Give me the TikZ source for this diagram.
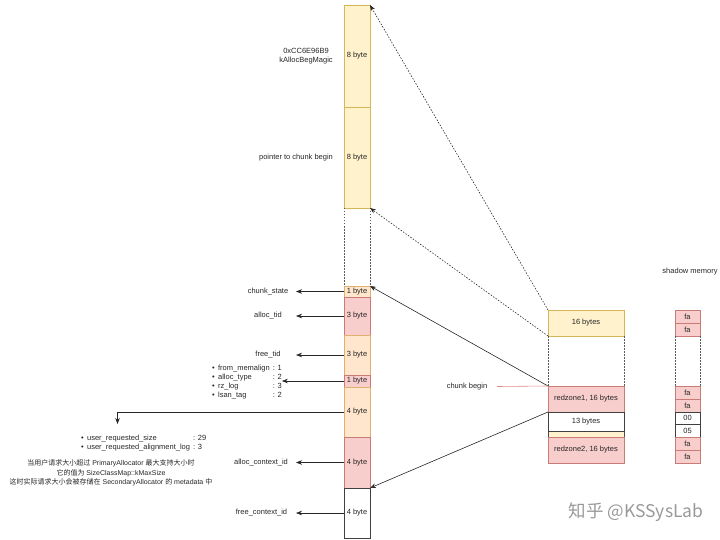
\documentclass[tikz,border=0pt]{standalone}
\usepackage{fontspec}
\setmainfont{Liberation Sans}
\newfontfamily\cjk{Noto Sans CJK SC}
\usetikzlibrary{arrows.meta}
\definecolor{yfill}{HTML}{FFF2CC}
\definecolor{ydraw}{HTML}{D6B656}
\definecolor{ofill}{HTML}{FFE6CC}
\definecolor{odraw}{HTML}{E0B070}
\definecolor{pfill}{HTML}{F8CECC}
\definecolor{pdraw}{HTML}{C97B78}
\definecolor{cbline}{HTML}{E08A88}
\begin{document}
\begin{tikzpicture}[x=1pt,y=-1pt,
  every node/.style={font=\fontsize{7.5}{9}\selectfont, text=black!85},
  cell/.style={draw, anchor=north west, inner sep=0pt, outer sep=0pt, line width=0.6pt, align=center},
  ycell/.style={cell, fill=yfill, draw=ydraw},
  ocell/.style={cell, fill=ofill, draw=odraw},
  pcell/.style={cell, fill=pfill, draw=pdraw},
  wcell/.style={cell, fill=white, draw=black!75},
  lab/.style={inner sep=0pt, outer sep=0pt},
  ptr/.style={-{Stealth[length=6pt,width=4.5pt]}, line width=0.6pt, draw=black!85},
  dotptr/.style={ptr, dash pattern=on 1.5pt off 1.5pt},
  gapline/.style={draw=black!65, line width=0.6pt, dash pattern=on 1.5pt off 1.5pt},
]
\useasboundingbox (0,0) rectangle (720,540);

% ---------- left column ----------
\node[ycell, minimum width=26pt, minimum height=102pt] (m8) at (344,5) {8 byte};
\node[ycell, minimum width=26pt, minimum height=101pt] (p8) at (344,107) {8 byte};
\node[ocell, minimum width=26pt, minimum height=11pt] (cs) at (344,286) {1 byte};
\node[pcell, minimum width=26pt, minimum height=38pt] (at) at (344,297) {3 byte};
\node[ocell, minimum width=26pt, minimum height=40pt] (ft) at (344,335) {3 byte};
\node[pcell, minimum width=26pt, minimum height=12pt] (ob) at (344,375) {1 byte};
\node[ocell, minimum width=26pt, minimum height=50pt] (rs) at (344,387) {4 byte};
\node[pcell, minimum width=26pt, minimum height=51pt] (ac) at (344,437) {4 byte};
\node[wcell, minimum width=26pt, minimum height=50pt] (fc) at (344,488) {4 byte};
\draw[gapline] (p8.south west) -- (cs.north west);
\draw[gapline] (p8.south east) -- (cs.north east);

% ---------- middle column ----------
\node[ycell, minimum width=76pt, minimum height=26pt] (s16) at (548,310) {16 bytes};
\node[pcell, minimum width=76pt, minimum height=26pt] (rz1) at (548,386) {redzone1, 16 bytes};
\node[ycell, draw=black!70, minimum width=76pt, minimum height=6pt] (pad) at (548,431) {};
\node[wcell, minimum width=76pt, minimum height=19pt] (u13) at (548,412) {13 bytes};
\node[pcell, minimum width=76pt, minimum height=26pt] (rz2) at (548,437) {redzone2, 16 bytes};
\draw[gapline] (s16.south west) -- (rz1.north west);
\draw[gapline] (s16.south east) -- (rz1.north east);

% ---------- shadow memory ----------
\node (sm) at (690,272) {shadow memory};
\node[pcell, minimum width=25pt, minimum height=13pt] (f1) at (675,310) {fa};
\node[pcell, minimum width=25pt, minimum height=13pt] (f2) at (675,323) {fa};
\node[pcell, minimum width=25pt, minimum height=13pt] (f3) at (675,386) {fa};
\node[pcell, minimum width=25pt, minimum height=13pt] (f4) at (675,399) {fa};
\node[wcell, minimum width=25pt, minimum height=12pt] (z0) at (675,412) {00};
\node[wcell, minimum width=25pt, minimum height=13pt] (z5) at (675,424) {05};
\node[pcell, minimum width=25pt, minimum height=13pt] (f5) at (675,437) {fa};
\node[pcell, minimum width=25pt, minimum height=13pt] (f6) at (675,450) {fa};
\draw[gapline] (f2.south west) -- (f3.north west);
\draw[gapline] (f2.south east) -- (f3.north east);

% ---------- labels ----------
\node[align=center] (magic) at (306,56.5) {0xCC6E96B9\\kAllocBegMagic};
\node (ptrlab) at (296,157.5) {pointer to chunk begin};
\node[lab, minimum width=56pt] (l1) at (268,291.5) {chunk\_state};
\node[lab, minimum width=56pt] (l2) at (268,316) {alloc\_tid};
\node[lab, minimum width=56pt] (l3) at (268,355) {free\_tid};
\node[lab, anchor=west] (l4) at (212,382.5) {%
  \begin{tabular}{@{}l@{\hspace{3.5pt}}l@{\hspace{3pt}}l@{}}
  \textbullet & from\_memalign & : 1\\
  \textbullet & alloc\_type & : 2\\
  \textbullet & rz\_log & : 3\\
  \textbullet & lsan\_tag & : 2
  \end{tabular}};
\node[lab, minimum width=70pt] (l6) at (261,462.5) {alloc\_context\_id};
\node[lab, minimum width=69pt] (l7) at (261.5,513) {free\_context\_id};
\node[lab, anchor=west] (l5) at (81,443.5) {%
  \begin{tabular}{@{}l@{\hspace{3.5pt}}l@{\hspace{3pt}}l@{}}
  \textbullet & user\_requested\_size & : 29\\
  \textbullet & user\_requested\_alignment\_log & : 3
  \end{tabular}};
\node[align=center, font=\fontsize{7}{9.5}\selectfont] (cn) at (111,473) {%
  {\cjk 当用户请求大小超过} PrimaryAllocator {\cjk 最大支持大小时}\\
  {\cjk 它的值为} SizeClassMap::kMaxSize\\
  {\cjk 这时实际请求大小会被存储在} SecondaryAllocator {\cjk 的} metadata {\cjk 中}};
\coordinate (dn) at (117.5,424);

\node[lab, minimum width=60pt] (cb) at (467,386.5) {chunk begin};

% ---------- connectors ----------
\draw[ptr] (cs.west) -- (l1.east);
\draw[ptr] (at.west) -- (l2.east);
\draw[ptr] (ft.west) -- (l3.east);
\draw[ptr] (ob.west) -- (ob.west -| l4.east);
\draw[ptr] (rs.west) -| (dn);
\draw[ptr] (ac.west) -- (l6.east);
\draw[ptr] (fc.west) -- (l7.east);

\draw[dotptr] (s16.north west) -- (m8.north east);
\draw[dotptr] (s16.south west) -- (p8.south east);
\draw[ptr] (rz1.north west) -- (cs.north east);
\draw[ptr] (u13.north west) -- (ac.south east);
\draw[cbline, line width=0.6pt] (cb.east) -- (rz1.north west);

% ---------- watermark ----------
\node[font=\cjk\fontsize{17.5}{19}\selectfont, text=black!40] (wm) at (636,512) {知乎 @KSSysLab};
\end{tikzpicture}
\end{document}
